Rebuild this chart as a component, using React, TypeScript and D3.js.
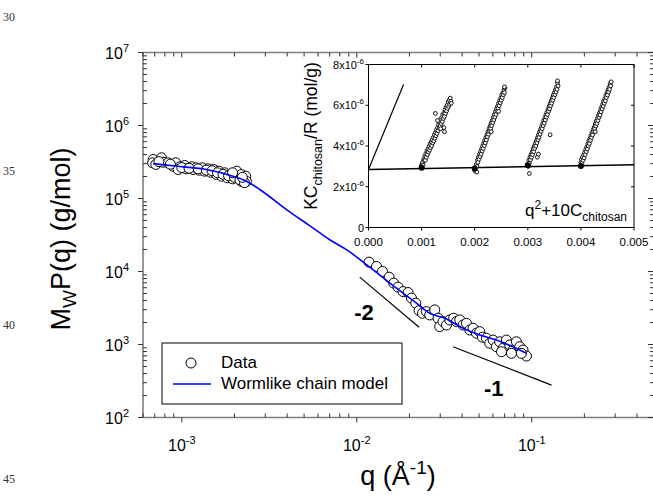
import React from 'react';
import * as d3 from 'd3';

// ---------- main plot data ----------
const lowQ = [6.86e-4, 6.81e-4, 7.10e-4, 7.65e-4, 7.82e-4, 8.35e-4, 8.92e-4, 9.24e-4, 9.75e-4, 9.53e-4, 1.04e-3, 1.06e-3, 1.14e-3, 1.16e-3, 1.21e-3, 1.26e-3, 1.31e-3, 1.35e-3, 1.41e-3, 1.46e-3, 1.52e-3, 1.58e-3, 1.63e-3, 1.69e-3, 1.76e-3, 1.82e-3, 1.88e-3, 1.95e-3, 2.06e-3, 2.10e-3, 2.19e-3, 2.26e-3, 2.32e-3, 2.34e-3, 2.19e-3,
  7.4e-4, 8.6e-4, 1.0e-3, 1.10e-3, 1.24e-3, 1.38e-3, 1.49e-3, 1.60e-3, 1.72e-3, 1.85e-3, 2.00e-3, 2.15e-3, 2.28e-3, 1.95e-3, 2.22e-3];
const lowM = [3.42e5, 3.08e5, 2.93e5, 3.61e5, 3.14e5, 3.08e5, 2.77e5, 3.08e5, 2.72e5, 2.50e5, 2.83e5, 2.55e5, 2.72e5, 2.50e5, 2.63e5, 2.44e5, 2.63e5, 2.37e5, 2.55e5, 2.29e5, 2.50e5, 2.13e5, 2.37e5, 2.02e5, 2.25e5, 1.92e5, 2.13e5, 1.86e5, 2.37e5, 1.92e5, 2.13e5, 1.82e5, 2.02e5, 1.72e5, 1.72e5,
  3.2e5, 2.95e5, 2.65e5, 2.60e5, 2.55e5, 2.45e5, 2.40e5, 2.25e5, 2.15e5, 2.05e5, 1.95e5, 1.80e5, 1.65e5, 2.25e5, 1.95e5];

const highQ = [0.01175, 0.01297, 0.01403, 0.01531, 0.01626, 0.01722, 0.01840, 0.01965, 0.02055, 0.02175, 0.02270, 0.02373, 0.02500, 0.02612, 0.02790, 0.02917, 0.02980, 0.03112, 0.03258, 0.03400, 0.03581, 0.03715, 0.03880, 0.04050, 0.04235, 0.04425, 0.04624, 0.04834, 0.05049, 0.05228, 0.05510, 0.05754, 0.06012, 0.06286, 0.06561, 0.06855, 0.07166, 0.07486, 0.07821, 0.08175, 0.08540, 0.08921, 0.09325, 0.08730, 0.07660, 0.06714];
const highM = [13460, 11720, 10000, 8370, 6930, 6110, 5310, 5150, 4320, 3680, 2910, 2680, 2820, 2540, 2980, 2290, 1760, 2060, 1850, 2170, 2290, 2060, 2170, 1850, 1950, 1580, 1670, 1430, 1500, 1260, 1220, 1040, 1150, 933, 1090, 887, 1150, 984, 840, 1090, 933, 840, 695, 757, 757, 796];

const modelQ = [6.86e-4, 9.75e-4, 1.38e-3, 1.96e-3, 2.34e-3, 2.79e-3, 3.96e-3, 5.38e-3, 7.01e-3, 8.73e-3, 0.01175, 0.01687, 0.02194, 0.02612, 0.03184, 0.0405, 0.05049, 0.06286, 0.09325];
const modelM = [3.01e5, 2.74e5, 2.50e5, 2.02e5, 1.72e5, 1.33e5, 7.05e4, 4.25e4, 2.72e4, 1.99e4, 1.17e4, 5910, 3680, 2680, 2290, 1670, 1350, 1150, 757];

const slopeTwoQ = [0.0104, 0.0227];
const slopeTwoM = [8375, 1722];
const slopeOneQ = [0.0355, 0.1297];
const slopeOneM = [933, 278];

const xMajor = [1e-3, 1e-2, 1e-1];
const xExp = ['-3', '-2', '-1'];
const yMajor = [1e2, 1e3, 1e4, 1e5, 1e6, 1e7];
const yExp = ['2', '3', '4', '5', '6', '7'];

// ---------- inset data (x in 1e-3, y in 1e-6) ----------
const set1X = [1.00, 1.01, 1.02, 1.03, 1.04, 1.05, 1.06, 1.07, 1.08, 1.09, 1.10, 1.11, 1.12, 1.13, 1.14, 1.15, 1.16, 1.17, 1.18, 1.19, 1.20, 1.21, 1.22, 1.23, 1.24, 1.25, 1.26, 1.27, 1.28, 1.29, 1.30, 1.31, 1.32, 1.33, 1.34, 1.35, 1.36, 1.37, 1.38, 1.39, 1.40, 1.41, 1.42, 1.43, 1.44, 1.45, 1.46, 1.47, 1.48, 1.49, 1.50, 1.51, 1.52, 1.53, 1.54, 1.55, 1.56, 1.26, 1.43, 1.42, 1.30, 1.36];
const set1Y = [3.05, 3.12, 3.20, 3.05, 3.35, 3.28, 3.50, 3.30, 3.62, 3.45, 3.75, 3.58, 3.85, 3.70, 3.98, 3.80, 4.10, 3.92, 4.20, 4.02, 4.30, 4.15, 4.42, 4.25, 4.55, 4.38, 4.65, 4.50, 4.80, 4.62, 4.90, 4.75, 5.05, 4.88, 5.15, 4.98, 5.30, 5.10, 5.40, 5.20, 5.55, 5.35, 5.62, 5.45, 5.78, 5.60, 5.90, 5.72, 6.00, 5.85, 6.15, 5.95, 6.25, 6.05, 6.35, 6.20, 6.10, 5.60, 4.70, 4.90, 5.25, 4.85];
const set2X = [2.00, 2.01, 2.02, 2.03, 2.04, 2.05, 2.06, 2.07, 2.08, 2.09, 2.10, 2.11, 2.12, 2.13, 2.14, 2.15, 2.16, 2.17, 2.18, 2.19, 2.20, 2.21, 2.22, 2.23, 2.24, 2.25, 2.26, 2.27, 2.28, 2.29, 2.30, 2.31, 2.32, 2.33, 2.34, 2.35, 2.36, 2.37, 2.38, 2.39, 2.40, 2.41, 2.42, 2.43, 2.44, 2.45, 2.46, 2.47, 2.48, 2.49, 2.50, 2.51, 2.52, 2.53, 2.54, 2.55, 2.56, 2.57, 2.04, 2.56, 2.31, 2.45];
const set2Y = [2.80, 2.95, 2.75, 3.10, 3.00, 3.30, 3.20, 3.45, 3.35, 3.60, 3.48, 3.72, 3.60, 3.85, 3.75, 4.00, 3.88, 4.15, 4.02, 4.28, 4.15, 4.42, 4.30, 4.55, 4.45, 4.70, 4.58, 4.85, 4.72, 4.98, 4.85, 5.12, 5.00, 5.25, 5.15, 5.40, 5.28, 5.55, 5.42, 5.68, 5.55, 5.82, 5.70, 5.95, 5.85, 6.10, 5.98, 6.22, 6.12, 6.35, 6.25, 6.50, 6.38, 6.60, 6.52, 6.75, 6.62, 6.85, 2.72, 6.90, 4.70, 5.70];
const set3X = [3.00, 3.01, 3.02, 3.03, 3.04, 3.05, 3.06, 3.07, 3.08, 3.09, 3.10, 3.11, 3.12, 3.13, 3.14, 3.15, 3.16, 3.17, 3.18, 3.19, 3.20, 3.21, 3.22, 3.23, 3.24, 3.25, 3.26, 3.27, 3.28, 3.29, 3.30, 3.31, 3.32, 3.33, 3.34, 3.35, 3.36, 3.37, 3.38, 3.39, 3.40, 3.41, 3.42, 3.43, 3.44, 3.45, 3.46, 3.47, 3.48, 3.49, 3.50, 3.51, 3.52, 3.53, 3.54, 3.55, 3.56, 3.57, 3.03, 3.18, 3.42, 3.20, 3.56];
const set3Y = [3.10, 3.00, 3.30, 3.15, 3.45, 3.32, 3.58, 3.45, 3.70, 3.58, 3.85, 3.72, 3.98, 3.88, 4.12, 4.00, 4.25, 4.15, 4.40, 4.30, 4.55, 4.42, 4.68, 4.58, 4.82, 4.72, 4.95, 4.85, 5.10, 5.00, 5.25, 5.12, 5.38, 5.28, 5.52, 5.42, 5.65, 5.55, 5.80, 5.70, 5.95, 5.82, 6.08, 5.98, 6.22, 6.10, 6.35, 6.25, 6.50, 6.38, 6.62, 6.52, 6.75, 6.65, 6.90, 6.78, 7.10, 6.95, 2.65, 3.45, 4.55, 3.60, 7.20];
const set4X = [4.00, 4.01, 4.02, 4.03, 4.04, 4.05, 4.06, 4.07, 4.08, 4.09, 4.10, 4.11, 4.12, 4.13, 4.14, 4.15, 4.16, 4.17, 4.18, 4.19, 4.20, 4.21, 4.22, 4.23, 4.24, 4.25, 4.26, 4.27, 4.28, 4.29, 4.30, 4.31, 4.32, 4.33, 4.34, 4.35, 4.36, 4.37, 4.38, 4.39, 4.40, 4.41, 4.42, 4.43, 4.44, 4.45, 4.46, 4.47, 4.48, 4.49, 4.50, 4.51, 4.52, 4.53, 4.54, 4.55, 4.56, 4.57, 4.27];
const set4Y = [3.20, 3.35, 3.15, 3.45, 3.30, 3.55, 3.42, 3.68, 3.58, 3.82, 3.72, 3.95, 3.85, 4.10, 4.00, 4.25, 4.12, 4.38, 4.28, 4.52, 4.42, 4.65, 4.55, 4.80, 4.70, 4.92, 4.85, 5.08, 4.98, 5.22, 5.10, 5.35, 5.25, 5.50, 5.40, 5.62, 5.52, 5.78, 5.68, 5.90, 5.82, 6.05, 5.95, 6.20, 6.10, 6.32, 6.22, 6.48, 6.38, 6.60, 6.50, 6.75, 6.65, 6.88, 6.78, 7.05, 6.95, 7.15, 4.70];
const dotX = [1.0, 2.0, 3.0, 4.0];
const dotY = [2.93, 2.90, 3.05, 3.02];
const baseLineX = [0, 5.0];
const baseLineY = [2.85, 3.08];
const zeroLineX = [0, 0.66];
const zeroLineY = [2.85, 7.02];
const insetXTicks = [0, 1, 2, 3, 4, 5];
const insetXLabels = ['0.000', '0.001', '0.002', '0.003', '0.004', '0.005'];
const insetYTicks = [0, 2, 4, 6, 8];

const lineNumbers = ['30', '35', '40', '45'];

const FONT = "'Liberation Sans', Arial, sans-serif";
const AXIS = '#7f7f7f';

export default function App() {
  const x = d3.scaleLog().domain([6e-4, 0.5]).range([143, 654]);
  const y = d3.scaleLog().domain([100, 1e7]).range([417.5, 52.5]);
  const ix = d3.scaleLinear().domain([0, 5]).range([368.5, 634]);
  const iy = d3.scaleLinear().domain([0, 8]).range([227.5, 64.5]);

  const xMinor: number[] = [];
  for (let e = -4; e <= 0; e++) for (let m = 2; m <= 9; m++) {
    const v = m * Math.pow(10, e);
    if (v > 6e-4 && v < 0.5) xMinor.push(v);
  }
  const yMinor: number[] = [];
  for (let e = 2; e < 7; e++) for (let m = 2; m <= 9; m++) yMinor.push(m * Math.pow(10, e));

  const line = d3.line<number>().x((_, i) => x(modelQ[i])).y((_, i) => y(modelM[i])).curve(d3.curveMonotoneX);
  const xl = x.range();
  const yl = y.range();

  const insetSets = [[set1X, set1Y], [set2X, set2Y], [set3X, set3Y], [set4X, set4Y]];

  return (
    <svg width={653} height={498} style={{ position: 'absolute', left: 0, top: 0, background: '#fff' }} fontFamily={FONT}>
      <rect x={0} y={0} width={653} height={498} fill="#fff" />
      {lineNumbers.map((t, i) => (
        <text key={t} x={3} y={21 + i * 154} fontFamily="'Liberation Serif', 'Times New Roman', serif" fontSize={12} fill="#333">{t}</text>
      ))}

      {/* main axes */}
      <g stroke={AXIS} strokeWidth={1.6} fill="none">
        <line x1={xl[0]} x2={xl[1]} y1={yl[0]} y2={yl[0]} />
        <line x1={xl[0]} x2={xl[1]} y1={yl[1]} y2={yl[1]} />
        <line x1={xl[0]} x2={xl[0]} y1={yl[0]} y2={yl[1]} />
        <line x1={xl[1]} x2={xl[1]} y1={yl[0]} y2={yl[1]} />
      </g>
      <g stroke="#333" strokeWidth={1}>
        {xMajor.map(v => (
          <g key={'xm' + v}>
            <line x1={x(v)} x2={x(v)} y1={yl[0]} y2={yl[0] + 5} />
            <line x1={x(v)} x2={x(v)} y1={yl[1]} y2={yl[1] + 5} />
          </g>
        ))}
        {xMinor.map(v => (
          <g key={'xn' + v}>
            <line x1={x(v)} x2={x(v)} y1={yl[0]} y2={yl[0] - 4} />
            <line x1={x(v)} x2={x(v)} y1={yl[1]} y2={yl[1] + 4} />
          </g>
        ))}
        {yMajor.map(v => (
          <g key={'ym' + v}>
            <line x1={xl[0] - 5} x2={xl[0]} y1={y(v)} y2={y(v)} />
            <line x1={xl[1] - 6} x2={xl[1]} y1={y(v)} y2={y(v)} />
          </g>
        ))}
        {yMinor.map(v => (
          <g key={'yn' + v}>
            <line x1={xl[0]} x2={xl[0] + 4} y1={y(v)} y2={y(v)} />
            <line x1={xl[1] - 4} x2={xl[1]} y1={y(v)} y2={y(v)} />
          </g>
        ))}
      </g>
      {xMajor.map((v, i) => (
        <text key={'xt' + v} x={x(v)} y={451} textAnchor="middle" fontSize={16}>10<tspan dy={-7} fontSize={11}>{xExp[i]}</tspan></text>
      ))}
      {yMajor.map((v, i) => (
        <text key={'yt' + v} x={129} y={y(v) + 6} textAnchor="end" fontSize={16}>10<tspan dy={-7} fontSize={11}>{yExp[i]}</tspan></text>
      ))}

      {/* axis titles */}
      <text x={398} y={485} textAnchor="middle" fontSize={27}>q (Å<tspan dy={-11} fontSize={19}>-1</tspan><tspan dy={11}>)</tspan></text>
      <text transform="translate(70,239) rotate(-90)" textAnchor="middle" fontSize={27}>M<tspan dy={6} fontSize={19}>W</tspan><tspan dy={-6}>P(q) (g/mol)</tspan></text>

      {/* data */}
      <g fill="#fff" stroke="#000" strokeWidth={1}>
        {lowQ.map((q, i) => <circle key={'l' + i} cx={x(q)} cy={y(lowM[i])} r={5} />)}
        {highQ.map((q, i) => <circle key={'h' + i} cx={x(q)} cy={y(highM[i])} r={5} />)}
      </g>
      {/* model line */}
      <path d={line(modelQ) || ''} fill="none" stroke="#0000ff" strokeWidth={1.6} />

      {/* slope guides */}
      <line x1={x(slopeTwoQ[0])} y1={y(slopeTwoM[0])} x2={x(slopeTwoQ[1])} y2={y(slopeTwoM[1])} stroke="#000" strokeWidth={1.2} />
      <line x1={x(slopeOneQ[0])} y1={y(slopeOneM[0])} x2={x(slopeOneQ[1])} y2={y(slopeOneM[1])} stroke="#000" strokeWidth={1.2} />
      <text x={x(0.0110)} y={y(2170)} textAnchor="middle" fontSize={22} fontWeight="bold">-2</text>
      <text x={x(0.0607)} y={y(196)} textAnchor="middle" fontSize={22} fontWeight="bold">-1</text>

      {/* legend */}
      <rect x={162} y={343} width={240} height={61} fill="#fff" stroke="#000" strokeWidth={1} />
      <circle cx={191} cy={363} r={5} fill="#fff" stroke="#000" strokeWidth={1} />
      <text x={221} y={368} fontSize={17}>Data</text>
      <line x1={173} x2={211} y1={384} y2={384} stroke="#0000ff" strokeWidth={1.6} />
      <text x={221} y={389} fontSize={17}>Wormlike chain model</text>

      {/* inset */}
      <rect x={ix(0)} y={iy(8)} width={ix(5) - ix(0)} height={iy(0) - iy(8)} fill="#fff" stroke="#000" strokeWidth={1} />
      <g stroke="#000" strokeWidth={1}>
        {insetXTicks.map(v => (
          <g key={'ixt' + v}>
            <line x1={ix(v)} x2={ix(v)} y1={iy(0)} y2={iy(0) + 3} />
            <line x1={ix(v)} x2={ix(v)} y1={iy(8)} y2={iy(8) + 3} />
          </g>
        ))}
        {insetYTicks.map(v => (
          <g key={'iyt' + v}>
            <line x1={ix(0) - 3} x2={ix(0)} y1={iy(v)} y2={iy(v)} />
            <line x1={ix(5) - 3} x2={ix(5)} y1={iy(v)} y2={iy(v)} />
          </g>
        ))}
      </g>
      {insetXTicks.map((v, i) => (
        <text key={'ixl' + v} x={ix(v)} y={246} textAnchor="middle" fontSize={11.5}>{insetXLabels[i]}</text>
      ))}
      {insetYTicks.map(v => (
        <text key={'iyl' + v} x={364} y={iy(v) + 4} textAnchor="end" fontSize={11}>
          {v === 0 ? '0' : <>{v}x10<tspan dy={-5} fontSize={8}>-6</tspan></>}
        </text>
      ))}
      <text transform="translate(317,136) rotate(-90)" textAnchor="middle" fontSize={17.5}>KC<tspan dy={5} fontSize={12.5}>chitosan</tspan><tspan dy={-5}>/R (mol/g)</tspan></text>
      <text x={627} y={216} textAnchor="end" fontSize={17}>q<tspan dy={-7} fontSize={12}>2</tspan><tspan dy={7}>+10C</tspan><tspan dy={5} fontSize={12}>chitosan</tspan></text>

      <line x1={ix(baseLineX[0])} y1={iy(baseLineY[0])} x2={ix(baseLineX[1])} y2={iy(baseLineY[1])} stroke="#000" strokeWidth={1.5} />
      <line x1={ix(zeroLineX[0])} y1={iy(zeroLineY[0])} x2={ix(zeroLineX[1])} y2={iy(zeroLineY[1])} stroke="#000" strokeWidth={1.2} />
      <g fill="#fff" stroke="#111" strokeWidth={1}>
        {insetSets.map(([sx, sy], k) => sx.map((v, i) => (
          <circle key={'s' + k + '_' + i} cx={ix(v)} cy={iy(sy[i])} r={1.9} />
        )))}
      </g>
      {dotX.map((v, i) => <circle key={'d' + i} cx={ix(v)} cy={iy(dotY[i])} r={3} fill="#000" />)}
    </svg>
  );
}
